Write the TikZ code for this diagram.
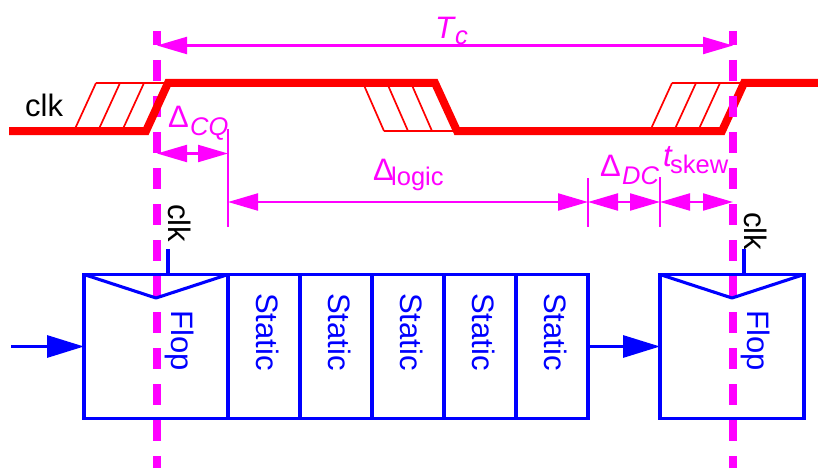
\documentclass[tikz,border=0pt]{standalone}
\usepackage{fontspec}
\usepackage{graphicx}
\setmainfont{Liberation Sans}
\usetikzlibrary{arrows.meta}
\definecolor{mag}{RGB}{255,0,255}
\definecolor{blu}{RGB}{0,0,255}
\definecolor{rd}{RGB}{255,0,0}
\tikzset{
  x=1pt,y=-1pt,
  clockedge/.style={draw=mag,line width=8pt,dash pattern=on 21pt off 15pt,dash phase=7pt},
  wave/.style={draw=rd,line width=8pt,line join=miter},
  hatch/.style={draw=rd,line width=1.7pt},
  span/.style={draw=mag,line width=2.2pt,{Triangle[length=30pt,width=17pt,fill=mag]}-{Triangle[length=30pt,width=17pt,fill=mag]}},
  tick/.style={draw=mag,line width=2pt},
  logicbox/.style={draw=blu,line width=3.1pt,minimum height=144pt,inner sep=0pt,outer sep=0pt},
  sig/.style={draw=blu,line width=3.1pt,-{Triangle[length=37pt,width=22pt,fill=blu]}},
  blueline/.style={draw=blu,line width=3.1pt,line join=round},
  bluetext/.style={text=blu,font=\fontsize{31}{31}\selectfont,rotate=-90,anchor=base west,inner sep=0pt},
  blacktext/.style={text=black,font=\fontsize{31}{31}\selectfont,anchor=base west,inner sep=0pt},
  magtext/.style={text=mag,font=\fontsize{31}{31}\selectfont,anchor=base west,inner sep=0pt},
  magsub/.style={text=mag,font=\fontsize{25.5}{25.5}\selectfont,anchor=base west,inner sep=0pt},
}
\begin{document}
\begin{tikzpicture}
\useasboundingbox (0,0) rectangle (818,468);
% named coordinates
\coordinate (edgeLtop) at (157,31);
\coordinate (edgeLbot) at (157,468);
\coordinate (edgeRtop) at (733,31);
\coordinate (edgeRbot) at (733,468);
\coordinate (tcL) at (157,45.5);
\coordinate (tcR) at (733,45.5);
\coordinate (cqL) at (157,153.5);
\coordinate (cqR) at (228,153.5);
\coordinate (logL) at (228,202);
\coordinate (logR) at (588,202);
\coordinate (dcL) at (588,202);
\coordinate (dcR) at (660,202);
\coordinate (skL) at (660,202);
\coordinate (skR) at (733,202);
\coordinate (inS) at (11,346.5);

% left clock edge, under the wave
\draw[clockedge] (edgeLtop) -- (edgeLbot);

% hatching
\draw[hatch] (96,83) -- (168,83);
\foreach \a in {0,24,48}{\draw[hatch] (74+\a,131) -- (96+\a,83);}
\draw[hatch] (384,131) -- (457,131);
\foreach \a in {0,24,48}{\draw[hatch] (363+\a,83) -- (384+\a,131);}
\draw[hatch] (672,83) -- (744,83);
\foreach \a in {0,24,48}{\draw[hatch] (650+\a,131) -- (672+\a,83);}

% clock waveform
\draw[wave] (9,131) -- (146,131) -- (168,83) -- (435,83) -- (457,131) -- (722,131) -- (744,83) -- (818,83);

% right clock edge, over the wave
\draw[clockedge] (edgeRtop) -- (edgeRbot);

% dimension ticks
\draw[tick] (228,129) -- (228,227);
\draw[tick] (588,178) -- (588,227);
\draw[tick] (660,177) -- (660,227);

% spans
\draw[span] (tcL) -- (tcR);
\draw[span] (cqL) -- (cqR);
\draw[span] (logL) -- (logR);
\draw[span] (dcL) -- (dcR);
\draw[span] (skL) -- (skR);

% labels
\node[magtext,font=\fontsize{31}{31}\selectfont\itshape] (tcT) at (435,39) {T};
\node[magsub,font=\fontsize{25.5}{25.5}\selectfont\itshape] (tcS) at (455,45) {c};
\node[magtext] (cqD) at (168,127) {Δ};
\node[magsub,font=\fontsize{25.5}{25.5}\selectfont\itshape] (cqS) at (190,135) {CQ};
\node[magtext] (logD) at (373,180) {Δ};
\node[magsub] (logS) at (391,185) {logic};
\node[magtext] (dcD) at (600,176) {Δ};
\node[magsub,font=\fontsize{25.5}{25.5}\selectfont\itshape] (dcS) at (622,184) {DC};
\node[magtext,font=\fontsize{31}{31}\selectfont\itshape] (skT) at (663,166) {t};
\node[magsub] (skS) at (670,173) {skew};
\node[blacktext] (clkA) at (25,117) {clk};
\node[blacktext,rotate=-90] (clkB) at (168,204) {clk};
\node[blacktext,rotate=-90] (clkC) at (744,212) {clk};

% blocks
\node[logicbox,minimum width=144pt] (flopA) at (156,346.5) {};
\node[logicbox,minimum width=72pt] (s1) at (264,346.5) {};
\node[logicbox,minimum width=72pt] (s2) at (336,346.5) {};
\node[logicbox,minimum width=72pt] (s3) at (408,346.5) {};
\node[logicbox,minimum width=72pt] (s4) at (480,346.5) {};
\node[logicbox,minimum width=72pt] (s5) at (552,346.5) {};
\node[logicbox,minimum width=144pt] (flopB) at (732,346.5) {};
\draw[blueline] (flopA.north west) -- (156,298) -- (flopA.north east);
\draw[blueline] (flopB.north west) -- (732,298) -- (flopB.north east);
\node[bluetext] (t0) at (171,310) {Flop};
\node[bluetext] (t1) at (256,293) {Static};
\node[bluetext] (t2) at (328,293) {Static};
\node[bluetext] (t3) at (400,293) {Static};
\node[bluetext] (t4) at (472,293) {Static};
\node[bluetext] (t5) at (544,293) {Static};
\node[bluetext] (t6) at (747,310) {Flop};

% clock stubs
\draw[blueline] (168,249) -- (168,274);
\draw[blueline] (744,249) -- (744,274);

% data arrows
\draw[sig] (inS) -- (flopA.west);
\draw[sig] (s5.east) -- (flopB.west);
\end{tikzpicture}
\end{document}
